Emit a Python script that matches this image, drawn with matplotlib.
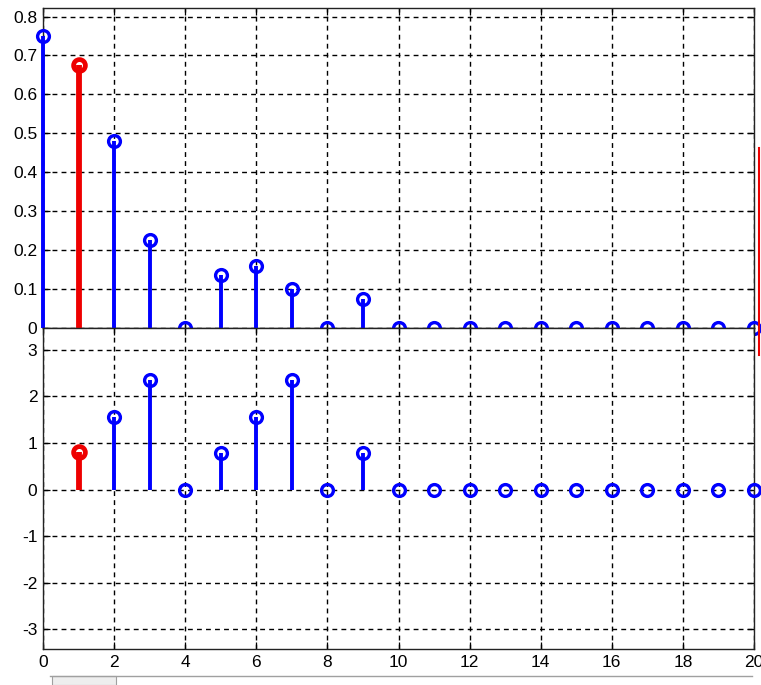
import numpy as np
import matplotlib.pyplot as plt
from matplotlib.lines import Line2D
from matplotlib.patches import Rectangle

plt.rcParams['font.family'] = ['Liberation Sans', 'DejaVu Sans']

# ---------------------------------------------------------------------------
# DATA
# ---------------------------------------------------------------------------
n_amp = list(range(0, 21))
amp = [0.75, 0.675, 0.48, 0.225, 0.0, 0.135, 0.16, 0.10, 0.0, 0.075,
       0.0, 0.0, 0.0, 0.0, 0.0, 0.0, 0.0, 0.0, 0.0, 0.0, 0.0]

n_phase = list(range(1, 21))
phase = [0.80, 1.57, 2.36, 0.0, 0.79, 1.57, 2.36, 0.0, 0.79,
         0.0, 0.0, 0.0, 0.0, 0.0, 0.0, 0.0, 0.0, 0.0, 0.0, 0.0]

highlight_n = 1   # the red stem in both panels

x_ticks = list(range(0, 21, 2))
amp_ticks = [0, 0.1, 0.2, 0.3, 0.4, 0.5, 0.6, 0.7, 0.8]
amp_labels = ["0", "0.1", "0.2", "0.3", "0.4", "0.5", "0.6", "0.7", "0.8"]
phase_ticks = [-3, -2, -1, 0, 1, 2, 3]

BLUE = "#0000ff"
RED = "#ee0000"


def draw_stems(ax, xs, ys):
    for x, y in zip(xs, ys):
        if x == highlight_n:
            col, lw, mew = RED, 4.2, 3.4
        else:
            col, lw, mew = BLUE, 2.8, 2.4
        ax.plot([x, x], [0, y], color=col, lw=lw, solid_capstyle="butt",
                zorder=3, clip_on=False)
        ax.plot([x], [y], "o", color=col, mfc="none", ms=8.5, mew=mew,
                zorder=4, clip_on=False)


def style_axes(ax):
    ax.grid(True, color="black", linestyle=(0, (3.5, 3)), linewidth=1.0)
    ax.tick_params(direction="in", length=5, width=0.9, labelsize=12.5,
                   top=True, right=True, pad=4)
    for s in ax.spines.values():
        s.set_linewidth(1.0)
        s.set_color("#222222")
    ax.set_xlim(0, 20)
    ax.set_xticks(x_ticks)


fig = plt.figure(figsize=(7.61, 6.85), dpi=100)
fig.patch.set_facecolor("white")

# top panel: amplitude
ax1 = fig.add_axes([43 / 761, 357 / 685, 711 / 761, 320 / 685])
style_axes(ax1)
ax1.set_ylim(0, 0.822)
ax1.set_yticks(amp_ticks)
ax1.set_yticklabels(amp_labels)
ax1.set_xticklabels([])
draw_stems(ax1, n_amp, amp)

# bottom panel: phase
ax2 = fig.add_axes([43 / 761, 36 / 685, 711 / 761, 321 / 685])
style_axes(ax2)
ax2.set_ylim(-3.42, 3.47)
ax2.set_yticks(phase_ticks)
ax2.set_yticklabels([str(t) for t in phase_ticks])
ax2.set_xticklabels([str(t) for t in x_ticks])
draw_stems(ax2, n_phase, phase)

# window decorations: red edge on the right and the scrollbar at the bottom
fig.add_artist(Line2D([759 / 761, 759 / 761], [(685 - 355) / 685, (685 - 148) / 685],
                      color=RED, lw=1.5, transform=fig.transFigure))
fig.add_artist(Line2D([50 / 761, 752 / 761], [(685 - 676) / 685, (685 - 676) / 685],
                      color="#a0a0a0", lw=1.0, transform=fig.transFigure))
fig.add_artist(Rectangle((52 / 761, 0), 64 / 761, 9 / 685, transform=fig.transFigure,
                         facecolor="#eeeeee", edgecolor="#a0a0a0", lw=0.8))

plt.savefig("out.png", dpi=100)
plt.close()
